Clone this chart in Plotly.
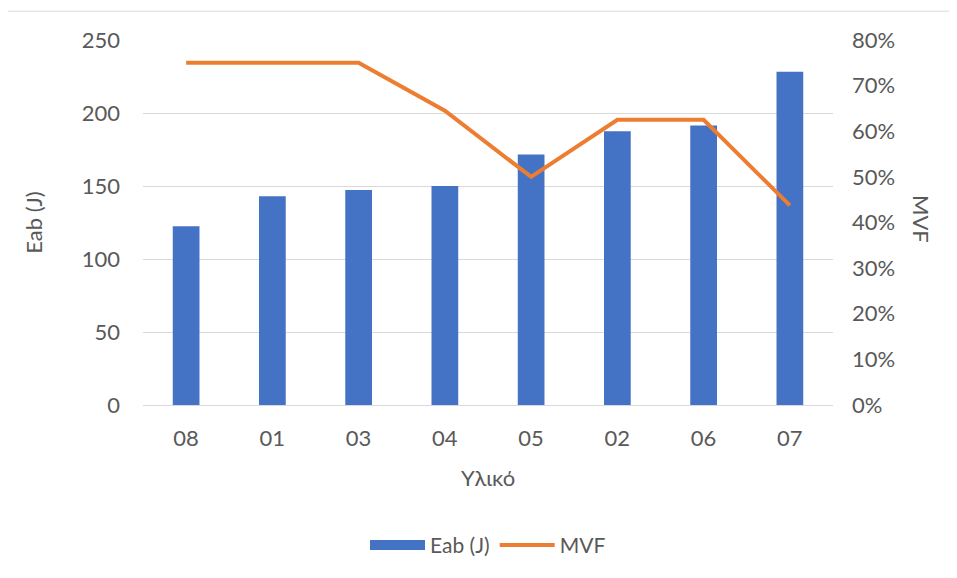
import plotly.graph_objects as go

categories = ["08", "01", "03", "04", "05", "02", "06", "07"]
eab_values = [122.5, 143, 147.3, 150, 171.5, 187.5, 191.5, 228.3]
mvf_values = [0.75, 0.75, 0.75, 0.645, 0.50, 0.625, 0.625, 0.4375]
left_ticks = [0, 50, 100, 150, 200, 250]
right_ticks = [0, 0.1, 0.2, 0.3, 0.4, 0.5, 0.6, 0.7, 0.8]

FONT = "Lato, sans-serif"
TXT = "#595959"
GRID = "#d9d9d9"
BLUE = "#4472C4"
ORANGE = "#ED7D31"
FS = 22

# page body has an 8px margin, figure is offset by it
OFF = 8
L, T = 143 - OFF, 40 - OFF
PW, PH = 690, 367

fig = go.Figure()
fig.add_trace(go.Bar(x=categories, y=eab_values, name="Eab (J)",
                     marker=dict(color=BLUE, line=dict(width=0)),
                     yaxis="y", showlegend=False))
# legend swatch for the bars (wide rectangle as in the original)
fig.add_trace(go.Scatter(x=[None], y=[None], name="Eab (J)", mode="lines",
                         line=dict(color=BLUE, width=14), yaxis="y"))
fig.add_trace(go.Scatter(x=categories, y=mvf_values, name="MVF", mode="lines",
                         line=dict(color=ORANGE, width=4, shape="linear"),
                         yaxis="y2"))

fig.update_layout(
    width=957 - OFF, height=578 - OFF,
    margin=dict(l=L, r=957 - OFF - L - PW, t=T, b=578 - OFF - T - PH),
    paper_bgcolor="white", plot_bgcolor="white",
    font=dict(family=FONT, color=TXT, size=FS),
    bargap=0.69,
    showlegend=True,
    legend=dict(orientation="h", x=0.5, xanchor="center", y=(407 - 548) / PH, yanchor="middle",
                font=dict(size=FS - 1, color=TXT), traceorder="normal", itemwidth=55),
    xaxis=dict(showgrid=False, showline=False, ticks="", tickfont=dict(size=FS),
               ticklabelstandoff=18,
               title=dict(text="Υλικό", font=dict(size=FS), standoff=20)),
    yaxis=dict(range=[0, 250], tickvals=left_ticks, showgrid=True, gridcolor=GRID,
               gridwidth=1, zeroline=True, zerolinecolor=GRID, zerolinewidth=1,
               showline=False, ticks="", tickfont=dict(size=FS), ticklabelstandoff=22,
               title=dict(text="Eab (J)", font=dict(size=FS), standoff=33)),
    yaxis2=dict(range=[0, 0.8], tickvals=right_ticks, tickformat=".0%", overlaying="y",
                side="right", showgrid=False, zeroline=False, showline=False, ticks="",
                tickfont=dict(size=FS), ticklabelstandoff=18),
    annotations=[dict(text="MVF", textangle=90, xref="paper", yref="paper",
                      x=(922 - 143) / PW, y=(407 - 220) / PH, showarrow=False,
                      font=dict(size=FS, color=TXT), xanchor="center", yanchor="middle")],
    shapes=[
        dict(type="line", xref="paper", yref="paper", x0=(5 - 143) / PW, x1=2,
             y0=(407 - 11) / PH, y1=(407 - 11) / PH, line=dict(color=GRID, width=1)),
        dict(type="line", xref="paper", yref="paper", x0=(5 - 143) / PW, x1=(5 - 143) / PW,
             y0=(407 - 11) / PH, y1=-1, line=dict(color=GRID, width=1)),
    ],
)

fig.write_html("out.html")
